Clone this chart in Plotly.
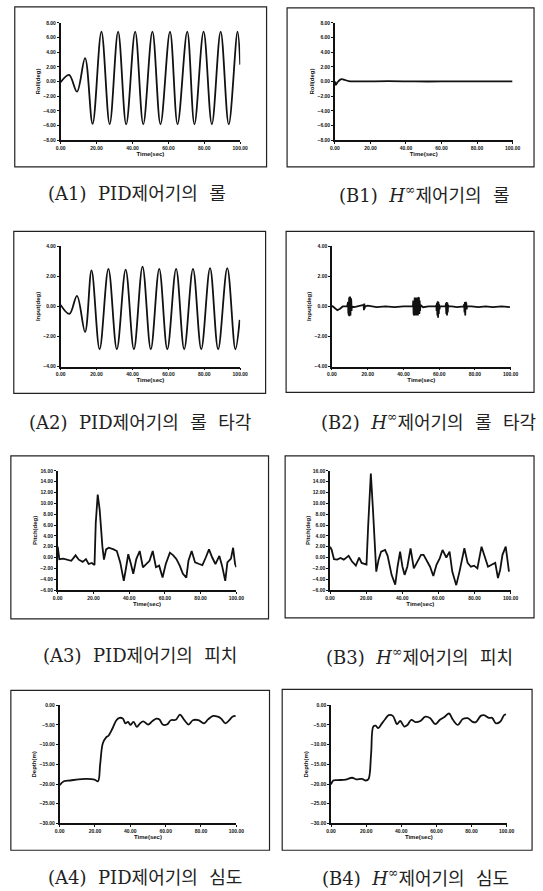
import plotly.graph_objects as go

W, H = 543, 891

# ---------------- data ----------------
time_ticks = [0, 20, 40, 60, 80, 100]
time_ticktext = ["0.00", "20.00", "40.00", "60.00", "80.00", "100.00"]

# A1: PID roll (extrema of the oscillation)
A1_t = [0, 4.7, 9.1, 13.6, 17.8, 22.7, 27.3, 32.0, 36.5, 41.5, 46.0, 51.1, 55.6, 60.9,
        65.1, 70.5, 74.5, 79.6, 84.2, 89.1, 93.6, 98.5, 100]
A1_v = [-0.1, 0.9, -1.4, 3.2, -5.8, 6.8, -5.85, 6.8, -5.85, 6.8, -5.85, 6.8, -5.85, 6.8,
        -5.85, 6.8, -5.85, 6.8, -5.85, 6.8, -5.85, 6.8, 2.3]

# B1: H-infinity roll
B1_t = [0, 0.5, 1.5, 3.3, 5.0, 7.8, 15, 30, 45, 60, 75, 90, 100]
B1_v = [0.0, -0.45, -0.1, 0.3, 0.25, 0.05, 0.0, 0.05, 0.0, 0.0, 0.0, 0.0, 0.0]

# A2: PID roll rudder angle
A2_t = [0, 4.9, 9.1, 13.6, 17.2, 21.7, 26.6, 31.3, 36.2, 40.8, 45.6, 50.2, 54.9, 59.4,
        64.3, 68.8, 73.7, 78.3, 83.2, 87.7, 92.8, 97.3, 99.7]
A2_v = [0.1, -0.5, 0.7, -1.7, 2.4, -2.85, 2.5, -2.85, 2.45, -2.85, 2.65, -2.85, 2.5, -2.85,
        2.5, -2.85, 2.5, -2.85, 2.55, -2.85, 2.55, -2.85, -0.9]

# B2: H-infinity roll rudder angle (flat with short chattering bursts)
B2_t = [0, 1.5, 3.0, 4.5, 6.0, 8.5,
        9.0, 9.15, 9.3, 9.45, 9.6, 9.75, 9.9, 10.05, 10.2, 10.35, 10.5, 10.65, 10.8, 10.95, 11.1,
        12.5, 15.0,
        17.7, 17.9, 18.1, 18.3, 18.5,
        20, 25, 30, 35, 40, 45.3,
        45.5, 45.7, 45.9, 46.1, 46.3, 46.5, 46.7, 46.9, 47.1, 47.3, 47.5,
        47.7, 47.9, 48.1, 48.3, 48.5, 48.7, 48.9, 49.1, 49.3, 49.5,
        51, 54, 58.2,
        58.4, 58.6, 58.8, 59.0, 59.2, 59.4, 59.6, 59.8, 60.0, 60.2, 60.4,
        62, 63.6,
        63.8, 64.0, 64.2, 64.4, 64.6, 64.8, 65.0, 65.2,
        67, 70, 73.8,
        74.0, 74.2, 74.4, 74.6, 74.8, 75.0, 75.2, 75.4, 75.6,
        78, 82, 86, 90, 95, 99.6]
B2_v = [0.05, -0.1, -0.25, -0.15, 0.0, 0.0,
        0.3, -0.4, 0.55, -0.6, 0.6, -0.65, 0.65, -0.6, 0.6, -0.6, 0.55, -0.5, 0.4, -0.3, 0.0,
        -0.05, 0.0,
        0.1, -0.25, 0.2, -0.15, 0.0,
        0.05, -0.05, 0.0, -0.05, 0.0, 0.0,
        0.4, -0.5, 0.6, -0.6, 0.6, -0.6, 0.6, -0.6, 0.6, -0.6, 0.6,
        -0.6, 0.6, -0.6, 0.6, -0.6, 0.55, -0.5, 0.4, -0.3, 0.1,
        -0.05, 0.0, 0.0,
        0.1, -0.3, 0.25, -0.6, 0.35, -0.75, 0.3, -0.5, 0.15, -0.2, 0.0,
        0.0, 0.0,
        0.2, -0.5, 0.3, -0.6, 0.25, -0.4, 0.1, 0.0,
        0.0, -0.05, 0.0,
        0.15, -0.4, 0.3, -0.6, 0.3, -0.5, 0.2, -0.2, 0.0,
        0.0, -0.05, 0.0, -0.05, 0.0, -0.05]

# A3: PID pitch
A3_t = [0, 0.9, 3.1, 5.8, 7.6, 10, 11.8, 14, 15.8, 17.3, 19.1, 20.6, 21.3, 22.4, 23.5, 25,
        25.9, 27.1, 28.6, 31.3, 33.1, 35, 37, 38, 39.5, 41, 42.3, 44, 45.9, 47.7, 49.5, 51.4,
        53.2, 55, 56.8, 58.7, 60.5, 62.8, 64.7, 66.5, 68.3, 70.1, 72, 73.2, 75, 76.9, 79.2,
        81, 82.9, 84.7, 86.5, 88.3, 90.5, 92, 93.8, 95, 97, 98.2, 99.3, 100]
A3_v = [2.0, -0.3, -0.2, -0.4, -0.6, 0.4, -0.4, -0.8, -0.3, -1.2, -1.0, -1.4, 6.4, 11.6, 8.8, 2.1,
        -0.4, 1.5, 1.8, 1.5, 1.2, -0.9, -4.3, -2.4, 0.6, -1.2, -3.0, -0.3, 1.2, -1.8, -1.2, -0.6,
        1.2, -1.8, -1.5, -3.7, -1.2, 0.9, 0.4, -0.3, -1.5, -3.0, -3.7, -0.6, 1.2, -0.9, -1.2,
        -1.4, 0.0, 1.5, 0.0, -1.2, 0.3, -1.5, -4.3, -0.9, -0.2, 1.8, -1.2, -1.8]

# B3: H-infinity pitch
B3_t = [0, 0.9, 2.2, 4, 5.8, 7.6, 10.3, 12.1, 14.3, 16.1, 17.5, 19.3, 20.2, 21.1, 22.6, 23.8,
        24.7, 25.6, 26.9, 28.3, 30.5, 31.9, 34.1, 36.1, 37.4, 38.8, 40.1, 41.3, 42.8, 44.6, 46.4,
        48.6, 50.4, 51.8, 53.6, 55.4, 57.2, 59, 60.8, 62.3, 64.4, 66.2, 67.7, 69.9, 71.7, 74.4,
        76.2, 78, 79.8, 81.6, 83.9, 85.7, 87.5, 89.7, 91.5, 93, 94.2, 95.5, 97.3, 99.1]
B3_v = [2.0, 1.4, -0.3, -0.4, -0.1, -0.4, 0.3, -0.7, -1.5, 0.0, -1.0, -1.3, -1.3, 5.7, 15.5, 8.7,
        2.0, -2.6, -0.4, 1.1, 1.4, 0.3, -3.2, -5.0, -1.7, 1.1, -1.7, -3.2, -1.7, 1.7, -2.0,
        -0.7, 0.5, 0.5, -0.7, -1.7, -3.4, -1.3, -0.1, 1.4, 0.0, 1.1, -2.6, -5.1, -2.6, 1.7,
        -1.0, -1.7, -1.5, -2.0, 2.0, 0.0, -1.7, -1.3, -1.0, -3.8, -2.3, 0.5, 2.0, -2.6]

# A4: PID depth
A4_t = [0, 2.4, 6.1, 10.6, 15.2, 19.8, 21.7, 22.9, 24.4, 26.2, 27.7, 29.9, 32.1, 33.9, 35.8,
        37.2, 38.7, 40, 41.8, 43.7, 45.5, 47.3, 50.1, 52.3, 54.7, 56.5, 58.3, 60.7, 62.9, 65.7,
        68.1, 70.6, 73, 75.4, 78.5, 81.7, 84, 86.8, 89.5, 91.4, 93.8, 96, 97.8, 99.6]
A4_v = [-20.3, -19.3, -19.1, -18.8, -18.7, -18.9, -19.3, -15.1, -9.7, -8.2, -7.7, -5.9, -3.8,
        -3.2, -3.4, -4.6, -4.2, -5.0, -4.2, -5.5, -4.6, -4.1, -4.9, -4.1, -3.4, -3.6, -4.9, -4.9,
        -3.8, -3.7, -2.4, -3.8, -4.9, -3.8, -3.8, -4.6, -3.6, -2.7, -2.9, -3.4, -4.6, -3.8,
        -2.9, -2.7]

# B4: H-infinity depth
B4_t = [0, 1.3, 3.7, 8.3, 12, 14.3, 17.6, 19.8, 21.3, 22.8, 24.1, 25.4, 26.9, 28.7, 30.9,
        32.8, 35.2, 37.6, 39.4, 41.7, 43.5, 45.7, 48.1, 50.9, 53.7, 56.5, 59.3, 62, 64.8, 67.2,
        69.4, 72.2, 75, 77.8, 80.6, 82.4, 85.2, 87, 89.8, 91.7, 93.9, 96.3, 98.7, 99.6]
B4_v = [-20.1, -19.1, -19.0, -18.9, -18.4, -18.8, -18.7, -19.1, -18.8, -12.5, -5.4, -5.2,
        -5.8, -4.8, -3.5, -2.5, -2.7, -4.8, -4.0, -5.4, -5.0, -3.7, -4.3, -4.0, -2.9, -3.3,
        -4.8, -3.7, -2.9, -2.1, -3.7, -5.0, -3.5, -3.3, -4.2, -4.3, -2.7, -2.5, -3.2, -3.2,
        -4.6, -4.2, -2.4, -2.4]

y_titles = ["Roll(deg)", "Roll(deg)", "Input(deg)", "Input(deg)",
            "Pitch(deg)", "Pitch(deg)", "Depth(m)", "Depth(m)"]
y_ranges = [[-8, 8], [-8, 8], [-4, 4], [-4, 4], [-6, 16], [-6, 16], [-30, 0], [-30, 0]]
y_dticks = [2, 2, 2, 2, 2, 2, 5, 5]

SP = "\u00a0\u00a0"
captions = [f"(A1){SP}PID제어기의{SP}롤",
            f"(B1){SP}<i>H</i><sup>∞</sup>제어기의{SP}롤",
            f"(A2){SP}PID제어기의{SP}롤{SP}타각",
            f"(B2){SP}<i>H</i><sup>∞</sup>제어기의{SP}롤{SP}타각",
            f"(A3){SP}PID제어기의{SP}피치",
            f"(B3){SP}<i>H</i><sup>∞</sup>제어기의{SP}피치",
            f"(A4){SP}PID제어기의{SP}심도",
            f"(B4){SP}<i>H</i><sup>∞</sup>제어기의{SP}심도"]

series = [(A1_t, A1_v, "spline"), (B1_t, B1_v, "spline"),
          (A2_t, A2_v, "spline"), (B2_t, B2_v, "linear"),
          (A3_t, A3_v, "linear"), (B3_t, B3_v, "linear"),
          (A4_t, A4_v, "spline"), (B4_t, B4_v, "spline")]

# ---------------- layout geometry (pixels) ----------------
plot_px = [(57, 241, 20, 138), (338, 520, 20, 138),
           (57, 241, 245, 366), (335, 518, 245, 366),
           (54, 237, 471, 591), (333, 518, 471, 591),
           (56, 237, 707, 826), (334, 514, 707, 826)]
box_px = [(10, 268, 4, 165), (289, 542, 5, 165),
          (9, 267, 230, 393), (288, 542, 230, 392),
          (6, 270, 456, 620), (287, 542, 456, 619),
          (6, 271, 692, 853), (284, 540, 691, 853)]
cap_px = [(135, 192), (430, 192), (138, 422), (434, 421),
          (138, 657), (425, 657), (143, 880), (421, 880)]

fig = go.Figure()
layout = dict(width=W, height=H, margin=dict(l=0, r=0, t=0, b=0),
              paper_bgcolor="white", plot_bgcolor="white", showlegend=False)

tickfont = dict(family="Liberation Sans, Arial", size=5, color="#111", weight="bold")
shapes, annotations = [], []

for i, ((t, v, shp), (x0, x1, y0, y1)) in enumerate(zip(series, plot_px)):
    n = "" if i == 0 else str(i + 1)
    fig.add_trace(go.Scatter(x=t, y=v, mode="lines",
                             line=dict(color="#111", width=1.8, shape=shp, smoothing=1.0),
                             xaxis="x" + n, yaxis="y" + n, hoverinfo="skip"))
    layout["xaxis" + n] = dict(domain=[x0 / W, x1 / W], anchor="y" + n,
                               range=[0, 100], tickvals=time_ticks, ticktext=time_ticktext,
                               showline=True, linecolor="#111", linewidth=1.5,
                               ticks="outside", ticklen=2, tickcolor="#111",
                               showgrid=False, zeroline=False, tickfont=tickfont,
                               title=dict(text="Time(sec)", standoff=0,
                                          font=dict(family="Liberation Sans", size=6,
                                                    color="#111", weight="bold")))
    yr = y_ranges[i]
    layout["yaxis" + n] = dict(domain=[1 - y1 / H, 1 - y0 / H], anchor="x" + n,
                               range=yr, dtick=y_dticks[i], tick0=yr[0], tickformat=".2f",
                               showline=True, linecolor="#111", linewidth=1.5,
                               ticks="outside", ticklen=2, tickcolor="#111",
                               showgrid=False, zeroline=False, tickfont=tickfont,
                               title=dict(text=y_titles[i], standoff=2,
                                          font=dict(family="Liberation Sans", size=6,
                                                    color="#111", weight="bold")))
    bx0, bx1, by0, by1 = box_px[i]
    shapes.append(dict(type="rect", xref="paper", yref="paper",
                       x0=bx0 / W, x1=bx1 / W, y0=1 - by1 / H, y1=1 - by0 / H,
                       line=dict(color="#222", width=1.2)))
    cx, cy = cap_px[i]
    annotations.append(dict(text=captions[i], xref="paper", yref="paper",
                            x=cx / W, y=1 - cy / H, xanchor="center", yanchor="middle",
                            showarrow=False,
                            font=dict(family="DejaVu Serif, Noto Sans CJK KR",
                                      size=18, color="#222")))

layout["shapes"] = shapes
layout["annotations"] = annotations
fig.update_layout(**layout)
fig.write_html("out.html")
